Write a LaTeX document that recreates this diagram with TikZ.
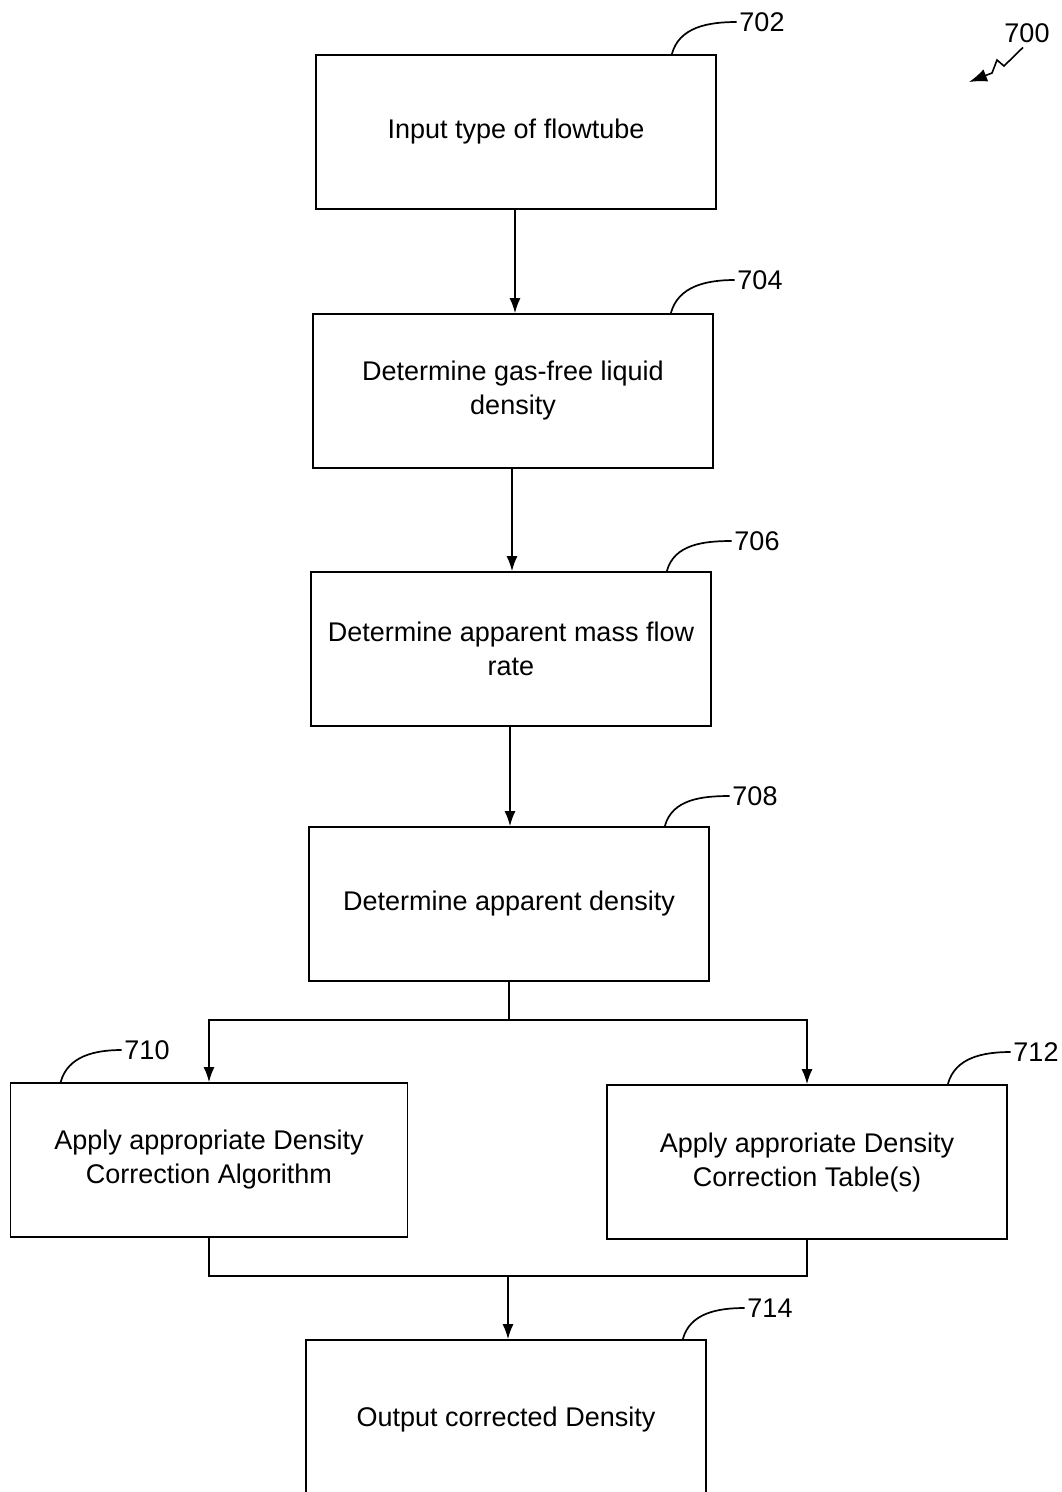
\documentclass[tikz,border=0pt]{standalone}
\usepackage{fontspec}
\setmainfont{Liberation Sans}
\usetikzlibrary{arrows.meta}

\begin{document}
\begin{tikzpicture}[x=1pt,y=-1pt,line width=1.7pt,>={Latex[length=15pt,width=11pt]},
  box/.style={draw,minimum width=400pt,minimum height=154pt,align=center,
    font=\fontsize{27}{34}\selectfont},
  tag/.style={font=\fontsize{27}{30}\selectfont,inner sep=2pt}]
  \useasboundingbox (0,0) rectangle (1062,1492);
  \node[box] (702) at (516,132) {Input type of flowtube};
  \node[box] (704) at (513,391) {Determine gas-free liquid\\density};
  \node[box] (706) at (511,649) {Determine apparent mass flow\\rate};
  \node[box] (708) at (509,904) {Determine apparent density};
  \node[box,minimum width=397pt] (710) at (209,1160) {Apply appropriate Density\\Correction Algorithm};
  \node[box] (712) at (807,1162) {Apply approriate Density\\Correction Table(s)};
  \node[box,minimum height=160pt] (714) at (506,1420) {Output corrected Density};
  \coordinate (split) at (509,1020);
  \coordinate (join) at (508,1276);
  \draw[->] ([xshift=-1pt]702.south) -- ([xshift=-1pt]702.south |- 704.north);
  \draw[->] ([xshift=-1pt]704.south) -- ([xshift=-1pt]704.south |- 706.north);
  \draw[->] ([xshift=-1pt]706.south) -- ([xshift=-1pt]706.south |- 708.north);
  \draw (708) -- (split);
  \draw[->] (split) -| (710);
  \draw[->] (split) -| (712);
  \draw (710.south) |- (join) -| (712.south);
  \draw[->] (join) -- (join |- 714.north);
  % reference numerals
  \node[tag] (t702) at (762,22) {702};
  \node[tag] (t704) at (760,280) {704};
  \node[tag] (t706) at (757,541) {706};
  \node[tag] (t708) at (755,796) {708};
  \node[tag] (t710) at (147,1050) {710};
  \node[tag] (t712) at (1036,1052) {712};
  \node[tag] (t714) at (770,1308) {714};
  \node[tag] (t700) at (1027,33) {700};
  \draw (t702.west) to[out=180,in=75] ([xshift=-45pt]702.north east);
  \draw (t704.west) to[out=180,in=75] ([xshift=-43pt]704.north east);
  \draw (t706.west) to[out=180,in=75] ([xshift=-45pt]706.north east);
  \draw (t708.west) to[out=180,in=75] ([xshift=-45pt]708.north east);
  \draw (t710.west) to[out=180,in=75] ([xshift=51pt]710.north west);
  \draw (t712.west) to[out=180,in=75] ([xshift=-60pt]712.north east);
  \draw (t714.west) to[out=180,in=75] ([xshift=-24pt]714.north east);
  \coordinate (p700) at (969,82);
  \draw[-{Latex[length=18pt,width=13pt]},line width=1.6pt]
    ([xshift=-4pt,yshift=-2pt]t700.south) -- (1004,66) -- (997,60) -- (992,73) -- (p700);
\end{tikzpicture}
\end{document}
